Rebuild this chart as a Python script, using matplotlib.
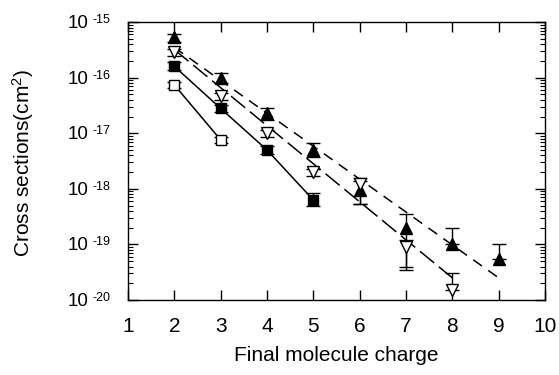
import matplotlib

matplotlib.use("Agg")

import matplotlib.pyplot as plt  # noqa: E402
from matplotlib.ticker import LogLocator, NullFormatter  # noqa: E402

plt.rcParams["font.family"] = ["Liberation Sans", "DejaVu Sans"]
plt.rcParams["mathtext.fontset"] = "custom"
plt.rcParams["mathtext.rm"] = "Liberation Sans"
plt.rcParams["mathtext.default"] = "regular"

# filled triangles
tri_x = [2, 3, 4, 5, 6, 7, 8, 9]
tri_y = [5.4e-16, 1.0e-16, 2.3e-17, 5.0e-18, 9.5e-19, 2.0e-19, 1.0e-19, 5.4e-20]
tri_lo = [4.3e-16, 8.0e-17, 1.7e-17, 3.7e-18, 5.3e-19, 4.0e-20, 1.0e-19, 5.4e-20]
tri_hi = [6.2e-16, 1.2e-16, 2.8e-17, 6.6e-18, 1.4e-18, 3.5e-19, 2.0e-19, 1.0e-19]

# open down triangles
otri_x = [2, 3, 4, 5, 6, 7, 8]
otri_y = [2.9e-16, 4.7e-17, 1.0e-17, 2.0e-18, 1.2e-18, 9.0e-20, 1.5e-20]
otri_lo = [2.5e-16, 4.0e-17, 8.5e-18, 1.7e-18, 5.3e-19, 3.4e-20, 1.5e-20]
otri_hi = [3.3e-16, 5.4e-17, 1.15e-17, 2.3e-18, 1.6e-18, 1.2e-19, 3.1e-20]

# filled squares
sq_x = [2, 3, 4, 5]
sq_y = [1.6e-16, 2.8e-17, 5.0e-18, 6.3e-19]
sq_lo = [1.35e-16, 2.4e-17, 4.3e-18, 4.9e-19]
sq_hi = [1.9e-16, 3.2e-17, 5.8e-18, 8.4e-19]

# open squares
osq_x = [2, 3]
osq_y = [7.4e-17, 7.6e-18]
osq_lo = [6.6e-17, 6.8e-18]
osq_hi = [8.3e-17, 8.5e-18]

# fitted lines (end points)
fit_tri_x = [2, 9]
fit_tri_y = [3.5e-16, 2.5e-20]
fit_otri_x = [2, 8]
fit_otri_y = [3.2e-16, 2.5e-20]

ytick_exp = [-20, -19, -18, -17, -16, -15]


def err(y, lo, hi):
    return [[v - l for v, l in zip(y, lo)], [h - v for v, h in zip(y, hi)]]


fig = plt.figure(figsize=(5.59, 3.75), dpi=100)
ax = fig.add_axes([0.229, 0.2, 0.746, 0.741])

ax.plot(fit_tri_x, fit_tri_y, color="black", lw=1.1, dashes=(7, 5))
ax.plot(fit_otri_x, fit_otri_y, color="black", lw=1.1, dashes=(12, 4))
ax.plot(sq_x, sq_y, color="black", lw=1.1)
ax.plot(osq_x, osq_y, color="black", lw=1.1)

ekw = dict(ls="none", ecolor="black", elinewidth=1, capsize=5, capthick=1, zorder=3)
ax.errorbar(tri_x, tri_y, yerr=err(tri_y, tri_lo, tri_hi), marker="^", ms=9,
            mfc="black", mec="black", **ekw)
ax.errorbar(otri_x, otri_y, yerr=err(otri_y, otri_lo, otri_hi), marker="v", ms=9,
            mfc="white", mec="black", mew=1, **ekw)
ax.errorbar(sq_x, sq_y, yerr=err(sq_y, sq_lo, sq_hi), marker="s", ms=7,
            mfc="black", mec="black", **ekw)
ax.errorbar(osq_x, osq_y, yerr=err(osq_y, osq_lo, osq_hi), marker="s", ms=7,
            mfc="white", mec="black", mew=1, **ekw)

ax.set_yscale("log")
ax.set_xlim(1, 10)
ax.set_ylim(1e-20, 1e-15)
ax.set_xticks(range(1, 11))
ax.set_yticks([10.0 ** e for e in ytick_exp])
ax.yaxis.set_minor_locator(LogLocator(base=10, subs=range(2, 10), numticks=20))
ax.yaxis.set_minor_formatter(NullFormatter())
ax.set_yticklabels([])

# y tick labels: "10" with a small raised exponent
for e in ytick_exp:
    ax.annotate("10", xy=(0, 10.0 ** e), xycoords=("axes fraction", "data"),
                xytext=(-40, -6), textcoords="offset pixels",
                ha="right", va="baseline", fontsize=13.5)
    ax.annotate(str(e), xy=(0, 10.0 ** e), xycoords=("axes fraction", "data"),
                xytext=(-36, -1), textcoords="offset pixels",
                ha="left", va="baseline", fontsize=9)

ax.tick_params(axis="x", which="major", direction="in", length=7, width=1,
               top=True, labelsize=15, pad=12)
ax.tick_params(axis="y", which="major", direction="in", length=7, width=1,
               right=True)
ax.tick_params(axis="y", which="minor", direction="in", length=3.5, width=0.8,
               right=True)
for s in ax.spines.values():
    s.set_linewidth(1)

ax.set_xlabel("Final molecule charge", fontsize=15)
ax.set_ylabel("Cross sections(cm$^2$)", fontsize=15)
ax.xaxis.set_label_coords(0.5, -0.165)
ax.yaxis.set_label_coords(-0.22, 0.495)

fig.savefig("out.png", dpi=100)
